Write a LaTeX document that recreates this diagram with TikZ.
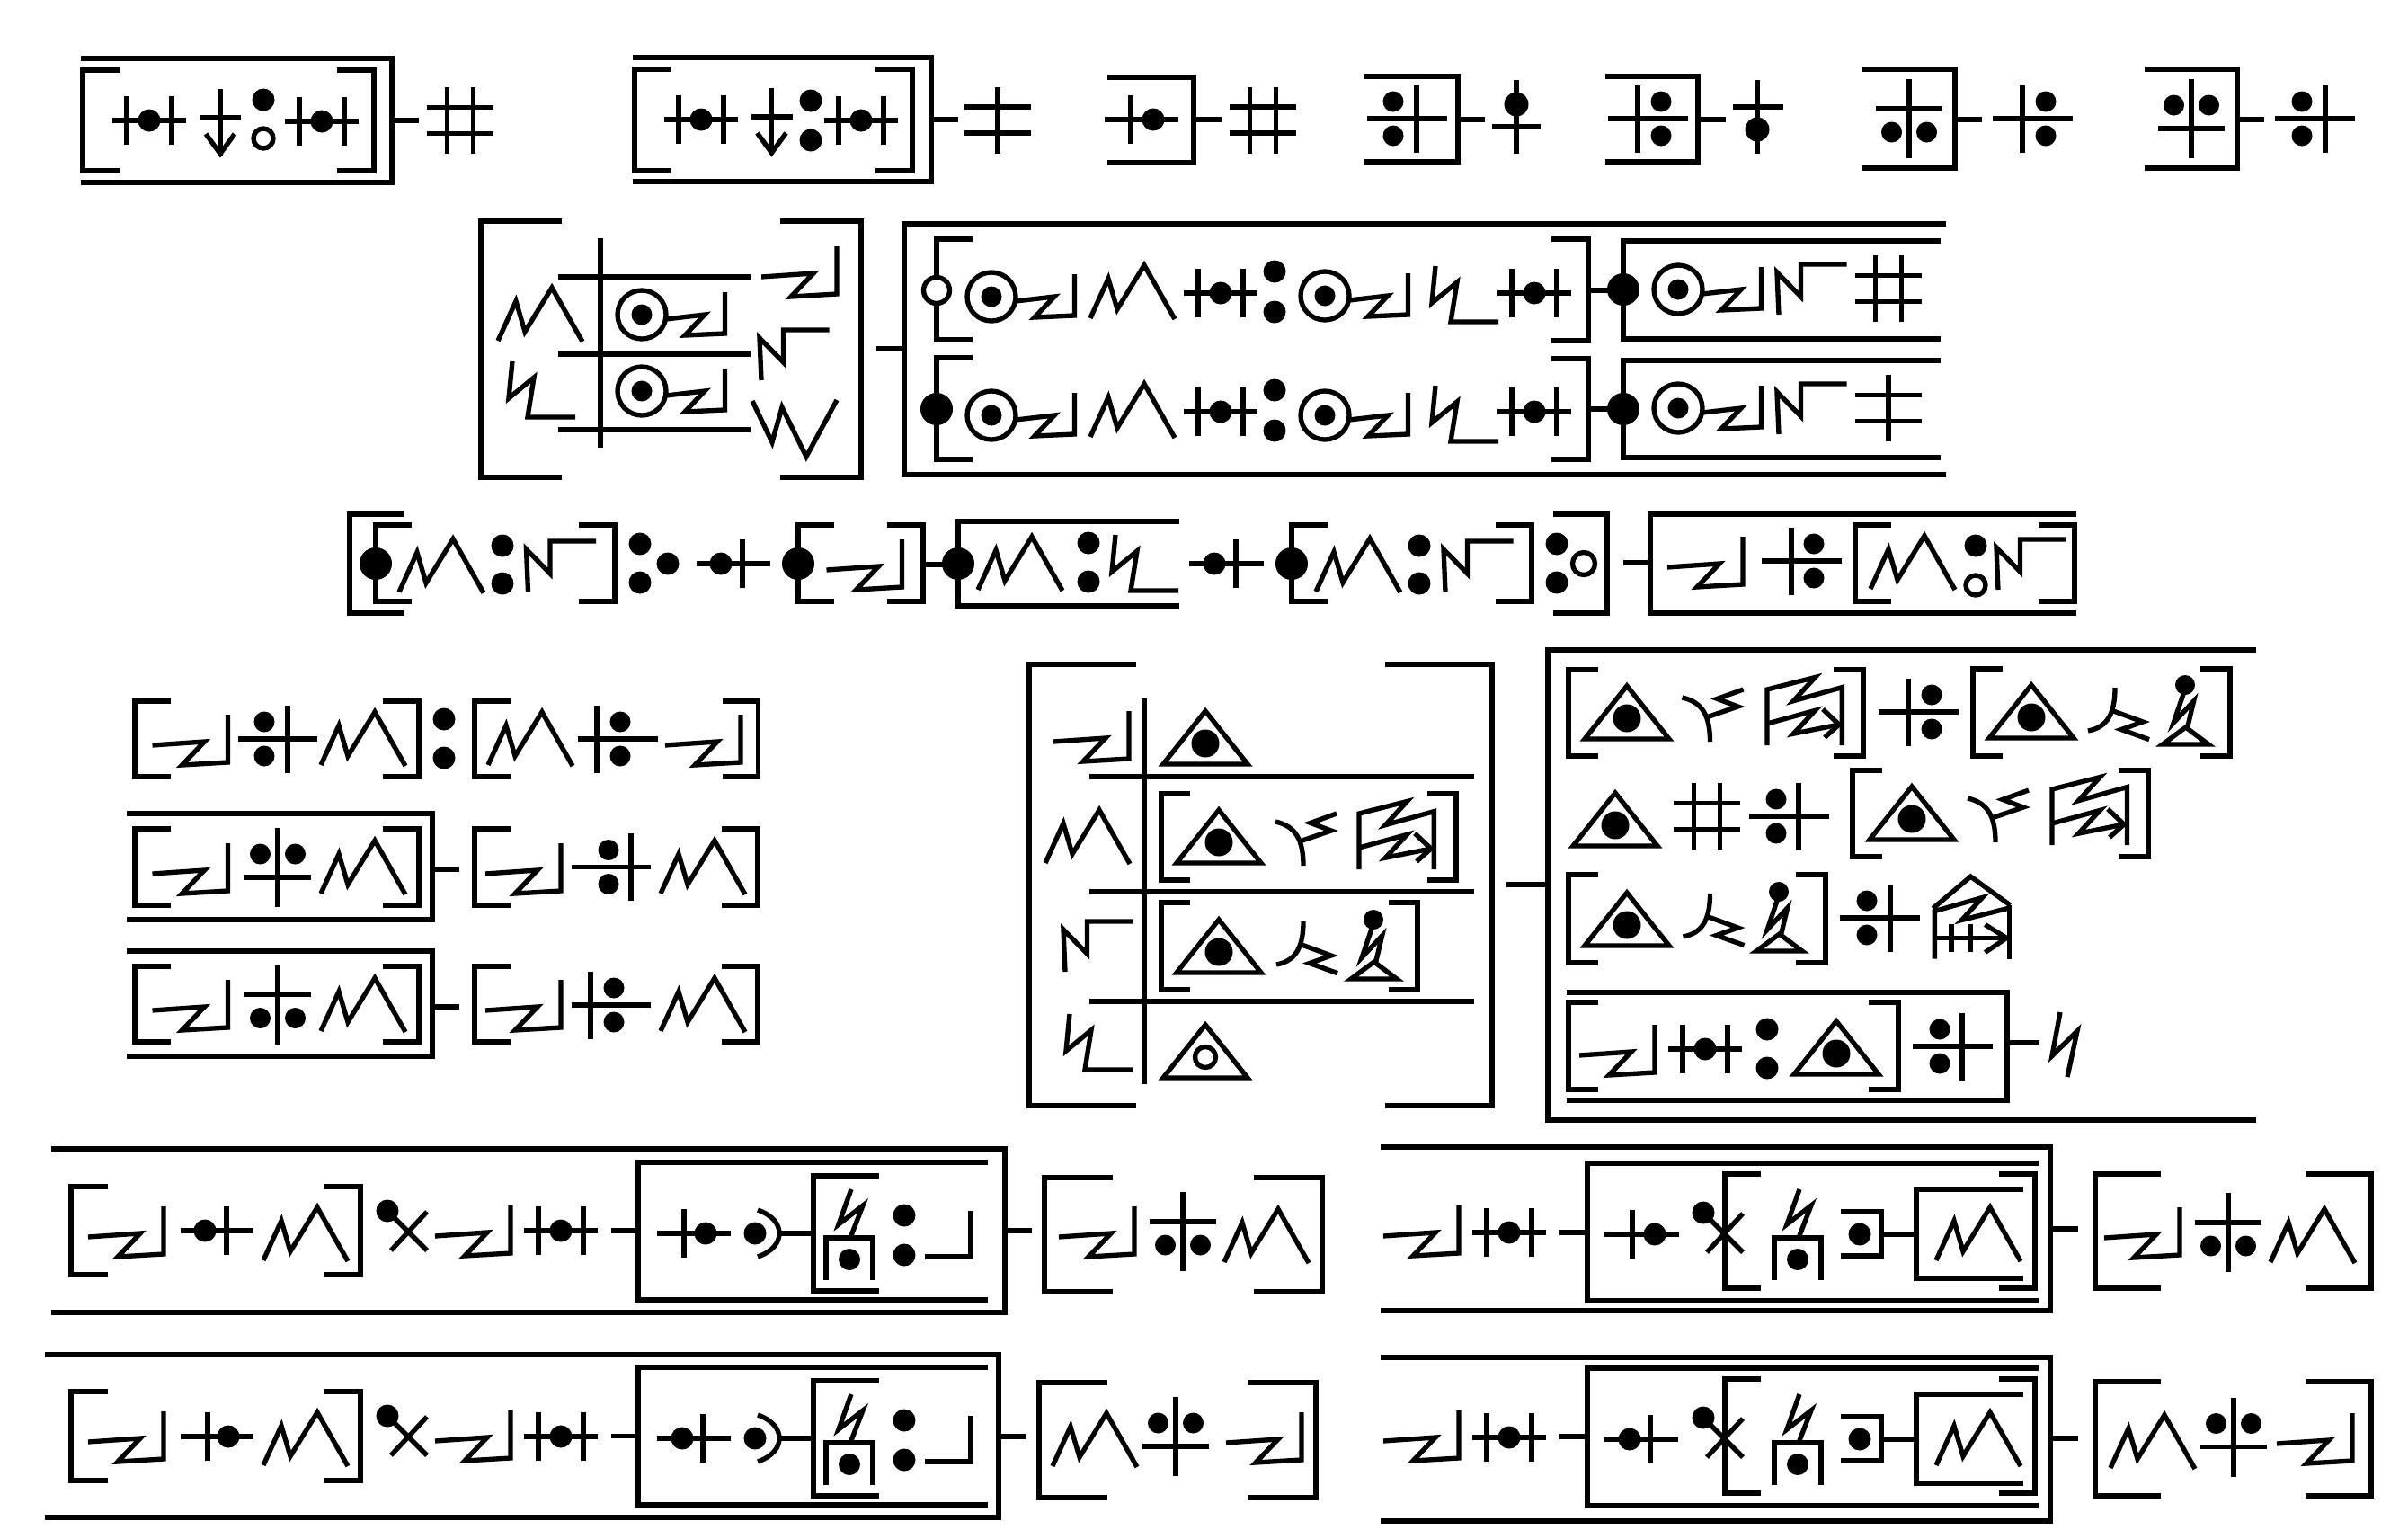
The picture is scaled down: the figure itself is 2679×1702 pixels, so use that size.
\documentclass[tikz,border=0pt]{standalone}
\tikzset{
  ink/.style={line width=1.6pt,line cap=butt,line join=miter,draw=black},
  blob/.style={fill=black,draw=none},
  ring/.style={line width=1.6pt,draw=black,fill=white}
}
\newcommand{\Sq}[4]{\draw[ink] (#2,#3)--(#1,#3)--(#1,#4)--(#2,#4);}
\newcommand{\Brk}[5]{\draw[ink] (#1+#5,#3)--(#1,#3)--(#1,#4)--(#1+#5,#4);\draw[ink] (#2-#5,#3)--(#2,#3)--(#2,#4)--(#2-#5,#4);}
\newcommand{\Ln}[4]{\draw[ink] (#1,#2)--(#3,#4);}
\newcommand{\GDot}[3][12.5]{\fill[blob] (#2,#3) circle[radius=#1];}
\newcommand{\GODot}[3][11]{\draw[ring] (#2,#3) circle[radius=#1];}
\newcommand{\GColon}[3]{\GDot{#1}{#2-#3}\GDot{#1}{#2+#3}}
\newcommand{\GZig}[2]{\draw[ink,shift={(#1,#2)}] (-42,6)--(16,2)--(-9,28)--(42,25)--(42,-28);}
\newcommand{\GMtn}[2]{\draw[ink,shift={(#1,#2)}] (-46,29)--(-26,-15)--(-16,19)--(14,-30)--(48,30);}
\newcommand{\GKick}[2]{\draw[ink,shift={(#1,#2)}] (-32,-31)--(-36,10)--(-8,-13)--(-15,31)--(38,31);}
\newcommand{\GFlag}[2]{\draw[ink,shift={(#1,#2)}] (-36,28)--(-38,-19)--(-11.5,8)--(-11.5,-28)--(39.5,-28);}
\newcommand{\GWup}[2]{\draw[ink,shift={(#1,#2)}] (-46,-31)--(-24,15)--(-13,-24)--(14,31)--(48,-32);}
\newcommand{\GHash}[2]{\begin{scope}[shift={(#1,#2)}]\draw[ink] (-14.5,-37)--(-14.5,37) (14.5,-37)--(14.5,37) (-37,-14.5)--(37,-14.5) (-37,14.5)--(37,14.5);\end{scope}}
\newcommand{\GTw}[2]{\begin{scope}[shift={(#1,#2)}]\draw[ink] (0,-37)--(0,37) (-37,-14.5)--(37,-14.5) (-37,14.5)--(37,14.5);\end{scope}}
\newcommand{\GHtwo}[2]{\begin{scope}[shift={(#1,#2)}]\draw[ink] (-25,-27)--(-25,27) (25,-27)--(25,27) (-41,0)--(41,0);\fill[blob] (0,0) circle[radius=12.5];\end{scope}}
\newcommand{\GCd}[5]{\begin{scope}[shift={(#1,#2)}]\draw[ink] (0,-27)--(0,27) (-#3,0)--(#4,0);\fill[blob] (#5,0) circle[radius=12.5];\end{scope}}
\newcommand{\GDv}[5]{\begin{scope}[shift={(#1,#2)}]\draw[ink] (0,-37.5)--(0,37.5) (-#3,0)--(#4,0);\fill[blob] (#5,-19) circle[radius=11.5] (#5,19) circle[radius=11.5];\end{scope}}
\newcommand{\GDdA}[2]{\begin{scope}[shift={(#1,#2)}]\draw[ink] (0,-44)--(0,44) (-37,11)--(37,11);\fill[blob] (-19.5,-15) circle[radius=11.5] (19.5,-15) circle[radius=11.5];\end{scope}}
\newcommand{\GDdB}[2]{\begin{scope}[shift={(#1,#2)}]\draw[ink] (0,-44)--(0,44) (-37,-11)--(37,-11);\fill[blob] (-19.5,15) circle[radius=11.5] (19.5,15) circle[radius=11.5];\end{scope}}
\newcommand{\GArrow}[2]{\begin{scope}[shift={(#1,#2)}]\draw[ink] (0,-32)--(0,42) (-23,0)--(23,0);\draw[ink] (-16,18)--(0,40)--(16,18);\end{scope}}
\newcommand{\GOzig}[2]{\begin{scope}[shift={(#1,#2)}]\draw[ink] (0,0) circle[radius=27];\fill[blob] (0,0) circle[radius=11.5];\draw[ink] (27,5)--(70,0)--(48,23)--(92.5,21)--(92.5,-25);\end{scope}}
\newcommand{\GTri}[2]{\begin{scope}[shift={(#1,#2)}]\draw[ink] (-47,0)--(0,-59)--(47,0)--cycle;\fill[blob] (0,-23) circle[radius=15.5];\end{scope}}
\newcommand{\GTriO}[2]{\begin{scope}[shift={(#1,#2)}]\draw[ink] (-47,0)--(0,-59)--(47,0)--cycle;\draw[ink] (0,-23) circle[radius=11.5];\end{scope}}
\newcommand{\GForkU}[2]{\begin{scope}[shift={(#1,#2)}]\draw[ink] (0,0) .. controls (0,-28) and (-8,-44) .. (-31,-49);\draw[ink] (-2.4,-27.6)--(31,-39)--(8,-47.6)--(37,-58);\end{scope}}
\newcommand{\GForkD}[2]{\begin{scope}[shift={(#1,#2)}]\draw[ink] (0,0) .. controls (0,28) and (-8,44) .. (-30,48);\draw[ink] (-1.7,26)--(31,38)--(7,46.5)--(38,57.6);\end{scope}}
\newcommand{\GRack}[2]{\begin{scope}[shift={(#1,#2)}]\draw[ink] (0,0)--(0,-62)--(53.4,-75.5)--(29.3,-49.3)--(83.4,-64.4)--(83.4,0);\draw[ink] (0,-24)--(53.4,-38.6)--(29.3,-12.8)--(80,-23);\draw[ink] (62,-40)--(80,-23)--(64,-8.6);\end{scope}}
\newcommand{\GHouse}[2]{\begin{scope}[shift={(#1,#2)}]\draw[ink] (-2,-56)--(40,-91.4)--(84,-59.6);\draw[ink] (0,0)--(0,-53)--(53,-68)--(30,-43)--(83,-56.5);\draw[ink] (83,-60)--(83,0);\draw[ink] (0,-23)--(80,-23);\draw[ink] (18.6,-39)--(18.6,-8) (40,-39)--(40,-8);\draw[ink] (56,-38)--(80,-23)--(56,-7);\end{scope}}
\newcommand{\GPerson}[2]{\begin{scope}[shift={(#1,#2)}]\fill[blob] (0,0) circle[radius=11];\draw[ink] (-1.7,9.3)--(-12.8,42)--(9.6,18)--(2.8,46.5);\draw[ink] (0.7,47)--(-25,66)--(26,66)--cycle;\end{scope}}
\newcommand{\GXball}[2]{\begin{scope}[shift={(#1,#2)}]\fill[blob] (0,0) circle[radius=12.5];\draw[ink] (6,6)--(44,44) (44,1)--(4,44);\end{scope}}
\newcommand{\GHut}[2]{\begin{scope}[shift={(#1,#2)}]\draw[ink] (2,-54)--(-12,-15)--(15,-36)--(1,0);\draw[ink] (-26,47)--(-26,0)--(26,0)--(26,47);\fill[blob] (0,24) circle[radius=12];\end{scope}}
\newcommand{\GArcs}[2]{\begin{scope}[shift={(#1,#2)}]\fill[blob] (0,0) circle[radius=12.5];\draw[ink] (3,-26) .. controls (20,-20) and (27,-10) .. (27,0) .. controls (27,10) and (20,20) .. (3,26);\draw[ink] (27,0)--(64,0);\end{scope}}
% the group that closes the lower-left boxes
\newcommand{\GTailL}[1]{\begin{scope}[shift={(0,#1)}]
 \GArcs{840}{1372}
 \Sq{905}{978}{1308}{1436}
 \GHut{945}{1377}
 \GColon{1006}{1374}{22}
 \draw[ink] (1029,1398)--(1080,1398)--(1080,1347);
\end{scope}}
\newcommand{\GTailR}[1]{\begin{scope}[shift={(0,#1)}]
 \GXball{1895}{1349}
 \Brk{1919}{2264}{1306}{1433}{40}
 \GHut{2000}{1377}
 \Sq{2093}{2048}{1348}{1397}
 \GDot{2069}{1373}
 \Ln{2093}{1373}{2132}{1373}
 \Sq{2132}{2251}{1323}{1422}
 \GMtn{2200}{1373}
\end{scope}}
\begin{document}
\begin{tikzpicture}[x=0.3pt,y=-0.3pt]
\useasboundingbox (0,0) rectangle (2679,1702);
\fill[white] (0,0) rectangle (2679,1702);
% ---- row 1
\Sq{436}{90}{65}{203}
\Brk{92}{416}{78}{190}{41}
\GHtwo{166}{134}
\GArrow{245}{131}
\GDot{293}{111}
\GODot{293}{154}
\GHtwo{358}{135}
\Ln{436}{134}{466}{134}
\GHash{512}{134}
\Sq{1036}{704}{64}{202}
\Brk{706}{1015}{77}{190}{41}
\GHtwo{780}{133}
\GArrow{858.5}{130}
\GColon{902}{134}{22}
\GHtwo{958}{134}
\Ln{1036}{133}{1066}{133}
\GTw{1110}{133.5}
\Sq{1328}{1232}{86}{181}
\GCd{1258}{133}{29}{53}{25}
\Ln{1328}{133}{1359}{133}
\GHash{1405}{133.5}
\Sq{1622}{1518}{85}{180}
\GDv{1576}{132}{55}{34}{-26}
\Ln{1622}{133}{1652}{133}
\Ln{1687}{89}{1687}{171}
\Ln{1660}{141}{1714}{141}
\GDot[13.5]{1687}{116}
\Sq{1889}{1786}{85}{180}
\GDv{1822}{132}{33}{56}{26}
\Ln{1889}{133}{1920}{133}
\Ln{1955}{89}{1955}{171}
\Ln{1928}{119}{1984}{119}
\GDot[13.5]{1955}{144}
\Sq{2175}{2072}{77}{187}
\GDdB{2124}{132}
\Ln{2175}{133}{2205}{133}
\GDv{2250}{132}{33}{56}{26}
\Sq{2489}{2386}{77}{187}
\GDdA{2438}{132}
\Ln{2489}{133}{2519}{133}
\GDv{2587}{132}{56}{33}{-26}
% ---- row 2, left table
\Brk{535}{958}{246}{531}{90}
\Ln{668}{265}{668}{498}
\Ln{621}{308}{835}{308}
\Ln{621}{394}{835}{394}
\Ln{621}{478}{835}{478}
\GMtn{600}{350}
\GKick{602}{433}
\GOzig{714}{350}
\GOzig{714}{435}
\GZig{889}{302}
\GFlag{883}{395}
\GWup{883}{477}
\Ln{975}{388}{1006}{388}
% ---- row 2, right box
\draw[ink] (2165,249)--(1006,249)--(1006,528)--(2165,528);
\Sq{1042}{1082}{266}{378}
\GODot[14.5]{1042}{323}
\Sq{1042}{1082}{398}{511}
\GDot[18]{1042}{455}
\Sq{1767}{1726}{266}{379}
\Sq{1767}{1726}{399}{511}
\GOzig{1103}{330}
\GOzig{1103}{462}
\GMtn{1259}{325}
\GMtn{1259}{457}
\GHtwo{1358}{326}
\GHtwo{1358}{458}
\GColon{1418}{324.5}{22.5}
\GColon{1418}{456.5}{22.5}
\GOzig{1474}{329}
\GOzig{1474}{462}
\GKick{1629}{327}
\GKick{1629}{460}
\GHtwo{1707}{326}
\GHtwo{1707}{458}
\Ln{1767}{323}{1806}{323}
\Ln{1767}{455}{1806}{455}
\Sq{1806}{2159}{268}{377}
\Sq{1806}{2159}{401}{509}
\GDot[18]{1806}{322}
\GDot[18]{1806}{455}
\GOzig{1867}{322}
\GOzig{1867}{454}
\GFlag{2015}{322}
\GFlag{2015}{455}
\GHash{2101}{321}
\GTw{2101}{454}
% ---- row 3
\Sq{389}{450}{572}{682}
\Brk{418}{684}{584}{669}{40}
\GDot[18]{418}{627}
\GMtn{490}{629.5}
\GColon{559}{628}{21}
\GFlag{623.5}{630}
\GColon{712}{626.5}{21.5}
\GDot{743}{627}
\GCd{826}{627}{51}{31}{-24}
\Brk{888}{1027}{584}{669}{40}
\GDot[18]{888}{627}
\GZig{961.5}{628}
\Ln{1027}{628}{1066}{628}
\Sq{1066}{1312}{580}{674}
\GDot[18]{1066}{627}
\GMtn{1134}{627}
\GColon{1211}{625.5}{21.5}
\GKick{1273}{626}
\GCd{1375}{627}{52}{31}{-24}
\Brk{1437}{1704}{584}{669}{40}
\GDot[18]{1437}{627}
\GMtn{1510}{629}
\GColon{1579}{628}{21}
\GFlag{1644}{630}
\Sq{1788}{1728}{572}{682}
\GColon{1732}{626.5}{21.5}
\GODot[12.5]{1762}{627}
\Ln{1806}{626}{1836}{626}
\Sq{1836}{2310}{572}{682}
\GZig{1897}{625}
\GDv{1993}{624}{33}{56}{25}
\Brk{2064}{2308}{584}{669}{40}
\GMtn{2127}{626}
\GDot{2198}{607}
\GODot{2198}{651}
\GFlag{2259}{628}
% ---- left block
\Brk{150}{466}{780}{864}{40}
\GZig{211.5}{823}
\GDv{320}{822}{55}{33}{-26}
\GMtn{403}{822}
\GColon{494}{821.5}{21.5}
\Brk{528}{843.5}{780}{864}{40}
\GMtn{589}{822}
\GDv{664}{822}{21}{68}{26}
\GZig{782}{823}
\Sq{481}{141}{905}{1023}
\Brk{150}{466}{922}{1007}{40}
\GZig{211.5}{966}
\GDdA{309}{965}
\GMtn{403}{965}
\Ln{481}{967}{511}{967}
\Brk{528}{843}{922}{1007}{40}
\GZig{582}{966}
\GDv{702}{964.5}{66}{22}{-25}
\GMtn{781}{965}
\Sq{481}{141}{1058}{1175}
\Brk{150}{466}{1075}{1159}{40}
\GZig{211.5}{1118}
\GDdB{309}{1117.5}
\GMtn{403}{1118}
\Ln{481}{1120}{511}{1120}
\Brk{528}{843}{1075}{1159}{40}
\GZig{582}{1118}
\GDv{657}{1118}{21}{67}{26}
\GMtn{781}{1118}
% ---- middle table
\Brk{1145}{1660}{739}{1230}{119}
\Ln{1273}{777}{1273}{1206}
\Ln{1212}{864}{1640}{864}
\Ln{1212}{992}{1640}{992}
\Ln{1212}{1114}{1640}{1114}
\GZig{1214}{819}
\GMtn{1209}{931}
\GFlag{1221}{1053}
\GKick{1222}{1159}
\GTri{1341}{850}
\Brk{1292}{1620}{883}{979}{32}
\GTri{1356}{960}
\GForkU{1450}{963}
\GRack{1512}{967}
\Brk{1292}{1577}{1004}{1101}{32}
\GTri{1356}{1082}
\GForkD{1450}{1025}
\GPerson{1528}{1023}
\GTriO{1341}{1199}
\Ln{1676}{984}{1722}{984}
% ---- right block
\draw[ink] (2510,723)--(1722,723)--(1722,1246)--(2510,1246);
\Brk{1745}{2073}{745}{841}{33}
\GTri{1810}{822}
\GForkU{1902.5}{825}
\GRack{1966}{829}
\GDv{2123}{792}{33}{56}{26}
\Brk{2195}{2481}{744}{841}{33}
\GTri{2260}{821}
\GForkD{2353}{765}
\GPerson{2431}{762}
\GTri{1797}{941}
\GHash{1899}{908}
\GDv{2001}{908}{55}{34}{-25}
\Brk{2061}{2390}{857}{953}{33}
\GTri{2127}{934}
\GForkU{2220}{937}
\GRack{2283}{940}
\Brk{1745}{2031}{973}{1071}{33}
\GTri{1810}{1052}
\GForkD{1902.5}{994}
\GPerson{1979}{992}
\GDv{2103}{1021}{56}{33}{-26}
\GHouse{2152.4}{1066.5}
\Sq{2233}{1743}{1104}{1224}
\Brk{1745}{2112}{1115}{1212}{33}
\GZig{1799}{1168}
\GHtwo{1897}{1167}
\GColon{1966}{1166.5}{21.5}
\GTri{2043}{1195}
\GDv{2183}{1164}{55}{34}{-25}
\Ln{2233}{1160}{2269}{1160}
\draw[ink] (2292,1126)--(2283,1174.5)--(2311,1147)--(2300,1198);
% ---- bottom left, first
\Sq{1118}{57}{1278}{1460}
\Brk{79}{401}{1320}{1418}{41}
\GZig{140}{1370}
\GCd{252}{1369}{51}{30}{-24}
\GMtn{339}{1373}
\GXball{431}{1347}
\GZig{526}{1369}
\GHtwo{624}{1369}
\Ln{680}{1369}{710}{1369}
\Sq{710}{1099}{1293}{1446}
\GCd{761}{1372}{30}{52}{24}
\GTailL{0}
\Ln{1118}{1369}{1148}{1369}
\Brk{1162}{1471}{1310}{1437}{76}
\GZig{1220}{1370}
\GDdB{1316}{1370}
\GMtn{1408}{1375}
% ---- bottom left, second
\Sq{1111}{50}{1507}{1688}
\Brk{79}{401}{1548}{1647}{41}
\GZig{140}{1598}
\GCd{231}{1598}{30}{51}{23}
\GMtn{339}{1601}
\GXball{431}{1575}
\GZig{526}{1597}
\GHtwo{624}{1598}
\Ln{680}{1597.5}{710}{1597.5}
\Sq{710}{1099}{1521}{1674}
\GCd{782}{1600}{51}{31}{-23}
\GTailL{228}
\Ln{1111}{1598}{1141}{1598}
\Brk{1156}{1464}{1538}{1666}{76}
\GMtn{1217}{1602}
\GDdA{1308}{1598}
\GZig{1406}{1599}
% ---- bottom right, first
\Sq{2281}{1536}{1276}{1458}
\GZig{1581}{1369}
\GHtwo{1679}{1371}
\Ln{1735}{1371}{1766}{1371}
\Sq{1766}{2268}{1294}{1447}
\GCd{1816}{1373}{31}{52}{25}
\GTailR{0}
\Ln{2281}{1367}{2312}{1367}
\Brk{2331}{2638}{1306}{1433}{73}
\GZig{2383}{1371}
\GDdB{2479}{1371}
\GMtn{2572}{1375}
% ---- bottom right, second
\Sq{2281}{1536}{1510}{1692}
\GZig{1581}{1597}
\GHtwo{1679}{1599}
\Ln{1735}{1598}{1766}{1598}
\Sq{1766}{2268}{1522}{1675}
\GCd{1836}{1601}{51}{31}{-23}
\GTailR{228}
\Ln{2281}{1600}{2312}{1600}
\Brk{2331}{2638}{1537}{1664}{73}
\GMtn{2394}{1604}
\GDdA{2485}{1598.5}
\GZig{2575}{1600}
\end{tikzpicture}
\end{document}
